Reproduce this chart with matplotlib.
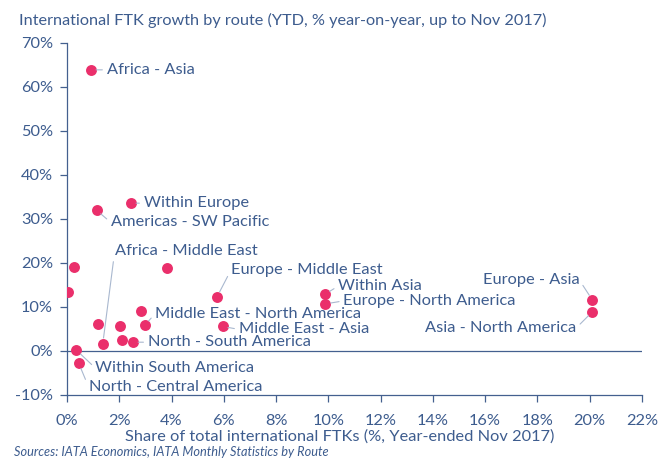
import matplotlib.pyplot as plt
from matplotlib.ticker import FuncFormatter

# Share of total international FTKs (%) and YTD growth (%)
routes = ['Africa - Asia', 'Within Europe', 'Americas - SW Pacific', '', '',
          '', 'Europe - Middle East', 'Within Asia', 'Europe - North America',
          'Europe - Asia', 'Asia - North America', '', 'Middle East - North America',
          'Middle East - Asia', '', '', 'Africa - Middle East', '',
          'North - South America', 'Within South America', 'North - Central America']
share = [0.90, 2.43, 1.13, 0.25, 0.05,
         3.82, 5.74, 9.87, 9.88,
         20.1, 20.1, 2.82, 2.98,
         5.95, 1.17, 2.04, 1.37, 2.09,
         2.51, 0.36, 0.45]
growth = [63.9, 33.6, 32.0, 19.2, 13.4,
          18.9, 12.3, 12.9, 10.7,
          11.6, 8.9, 9.2, 5.9,
          5.6, 6.1, 5.6, 1.7, 2.4,
          2.0, 0.2, -2.8]

# label placement: offset in pixels from the point, alignment
label_pos = {
    'Africa - Asia': (16, 0, 'left'),
    'Within Europe': (13, 0, 'left'),
    'Americas - SW Pacific': (14, -12, 'left'),
    'Africa - Middle East': (12, 93, 'left'),
    'Europe - Middle East': (14, 27, 'left'),
    'Within Asia': (13, 8, 'left'),
    'Europe - North America': (18, 3, 'left'),
    'Europe - Asia': (-13, 20, 'right'),
    'Asia - North America': (-16, -16, 'right'),
    'Middle East - North America': (10, 11, 'left'),
    'Middle East - Asia': (16, -3, 'left'),
    'North - South America': (15, 0, 'left'),
    'Within South America': (19, -18, 'left'),
    'North - Central America': (10, -24, 'left'),
}

text_col = '#3D5C8E'
axis_col = '#44608F'
dot_col = '#EA2F6B'
lead_col = '#A9B8CF'

plt.rcParams['font.family'] = ['Lato', 'DejaVu Sans']

fig = plt.figure(figsize=(6.61, 4.58), dpi=100)
ax = fig.add_axes([67 / 661, 1 - 395 / 458, 575 / 661, 352 / 458])

ax.scatter(share, growth, s=62, color=dot_col, zorder=3, linewidths=0)

for name, x, y in zip(routes, share, growth):
    if not name:
        continue
    dx, dy, ha = label_pos[name]
    ax.annotate(name, (x, y), xytext=(dx, dy), textcoords='offset pixels',
                ha=ha, va='center', fontsize=11.8, color=text_col,
                arrowprops=dict(arrowstyle='-', color=lead_col, lw=0.8,
                                shrinkA=1, shrinkB=4,
                                relpos=(0 if ha == 'left' else 1, 0.5)))

ax.set_xlim(0, 22)
ax.set_ylim(-10, 70)
ax.set_xticks(range(0, 23, 2))
ax.set_yticks(range(-10, 71, 10))
ax.xaxis.set_major_formatter(FuncFormatter(lambda v, p: f'{v:.0f}%'))
ax.yaxis.set_major_formatter(FuncFormatter(lambda v, p: f'{v:.0f}%'))
ax.axhline(0, color=axis_col, lw=0.9, zorder=1)

for side in ['top', 'right']:
    ax.spines[side].set_visible(False)
for side in ['left', 'bottom']:
    ax.spines[side].set_color(axis_col)
    ax.spines[side].set_linewidth(0.9)
ax.tick_params(colors=axis_col, labelcolor=text_col, labelsize=11.8,
               length=5, width=0.9, direction='out')
ax.tick_params(axis='x', pad=9)
ax.tick_params(axis='y', pad=5)

ax.set_xlabel('Share of total international FTKs (%, Year-ended Nov 2017)',
              fontsize=11.8, color=text_col)
ax.xaxis.set_label_coords((340 - 67) / 575, -(437 - 395) / 352)
ax.xaxis.label.set_va('center')
fig.text(19 / 661, 1 - 20 / 458,
         'International FTK growth by route (YTD, % year-on-year, up to Nov 2017)',
         fontsize=11.7, color=text_col, va='center', ha='left')
fig.text(14 / 661, 1 - 452 / 458, 'Sources: IATA Economics, IATA Monthly Statistics by Route',
         fontsize=9.2, style='italic', color=text_col, va='center', ha='left')

plt.savefig('out.png', dpi=100)
